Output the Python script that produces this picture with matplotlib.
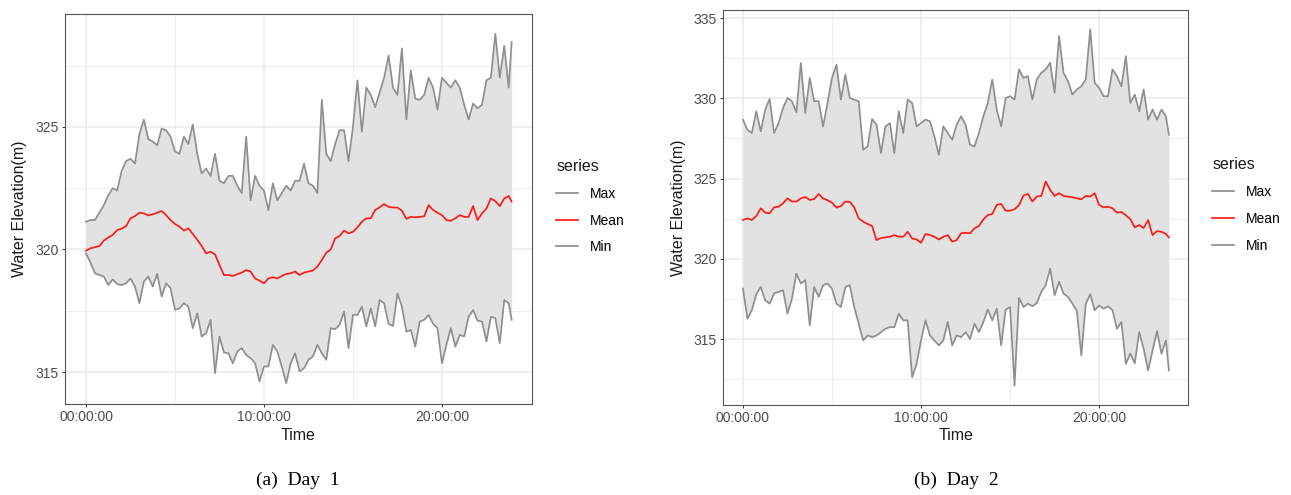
import numpy as np
import matplotlib
matplotlib.use("Agg")
import matplotlib.pyplot as plt
from matplotlib.lines import Line2D

plt.rcParams['font.family'] = ['Liberation Sans', 'DejaVu Sans']

# time stamps (minutes after midnight), sampled every 15 min + last reading
minutes = list(range(0, 1440, 15)) + [1435]
hours = np.array(minutes) / 60.0

# ---- Day 1 ----
day1_max = [321.13, 321.2, 321.2, 321.5, 321.8, 322.2, 322.5, 322.4, 323.2, 323.6,
            323.7, 323.5, 324.7, 325.3, 324.5, 324.4, 324.25, 324.93, 324.86, 324.6,
            324.0, 323.9, 324.6, 324.3, 325.1, 323.9, 323.1, 323.3, 323.0, 323.9,
            322.8, 322.7, 323.0, 323.0, 322.6, 322.3, 324.6, 322.0, 323.0, 322.6,
            322.4, 321.6, 322.7, 322.0, 322.3, 322.6, 322.4, 322.8, 322.8, 323.5,
            322.7, 322.6, 322.3, 326.1, 323.9, 323.6, 324.3, 324.86, 324.86, 323.6,
            325.0, 326.9, 324.8, 326.6, 326.3, 325.8, 326.4, 327.0, 327.9, 326.6,
            326.3, 328.2, 325.3, 327.3, 326.15, 326.1, 326.3, 327.0, 326.6, 325.7,
            327.0, 326.8, 326.6, 326.9, 326.6, 325.9, 325.3, 325.95, 325.75, 325.9,
            326.9, 327.0, 328.8, 327.0, 328.3, 326.6, 328.46]
day1_mean = [319.95, 320.05, 320.09, 320.14, 320.36, 320.49, 320.59, 320.79, 320.85, 320.95,
             321.27, 321.36, 321.5, 321.47, 321.39, 321.43, 321.5, 321.57, 321.40, 321.2,
             321.04, 320.93, 320.77, 320.86, 320.63, 320.4, 320.14, 319.84, 319.91, 319.8,
             319.37, 318.96, 318.96, 318.92, 318.99, 319.06, 319.16, 319.1, 318.82, 318.73,
             318.62, 318.82, 318.87, 318.82, 318.92, 319.0, 319.03, 319.1, 318.96, 319.06,
             319.1, 319.14, 319.3, 319.57, 319.87, 320.0, 320.45, 320.55, 320.77, 320.66,
             320.72, 320.9, 321.13, 321.27, 321.27, 321.61, 321.72, 321.85, 321.74, 321.71,
             321.71, 321.58, 321.25, 321.33, 321.31, 321.33, 321.35, 321.81, 321.61, 321.5,
             321.4, 321.2, 321.17, 321.27, 321.4, 321.33, 321.33, 321.77, 321.2, 321.47,
             321.67, 322.08, 321.97, 321.77, 322.08, 322.18, 321.95]
day1_min = [319.84, 319.46, 319.03, 318.96, 318.9, 318.55, 318.78, 318.59, 318.55, 318.62,
            318.82, 318.49, 317.81, 318.69, 318.9, 318.49, 319.0, 318.08, 318.62, 318.42,
            317.54, 317.6, 317.81, 317.67, 316.79, 317.4, 316.45, 316.59, 317.13, 314.96,
            316.45, 315.8, 315.77, 315.36, 315.84, 315.98, 315.7, 315.57, 315.36, 314.62,
            315.23, 315.23, 316.11, 315.84, 315.23, 314.55, 315.36, 315.77, 315.03, 315.16,
            315.5, 315.64, 316.11, 315.77, 315.5, 316.79, 316.75, 316.93, 317.47, 315.98,
            317.33, 317.33, 317.67, 316.86, 317.6, 316.86, 317.94, 317.81, 316.97, 316.88,
            318.21, 317.67, 316.65, 316.72, 316.04, 317.06, 317.13, 317.33, 316.97, 316.79,
            315.36, 316.11, 316.79, 316.04, 316.52, 316.45, 317.26, 317.53, 317.1, 317.06,
            316.25, 317.26, 317.2, 316.18, 317.94, 317.81, 317.13]

# ---- Day 2 ----
day2_max = [328.67, 328.05, 327.84, 329.19, 327.94, 329.3, 329.96, 327.84, 328.46, 329.4,
            330.02, 329.82, 329.13, 332.2, 329.09, 331.27, 329.82, 329.82, 328.25, 329.71,
            331.27, 332.1, 329.92, 331.48, 330.02, 329.92, 329.82, 326.8, 327.0, 328.71,
            328.36, 326.59, 328.25, 328.46, 326.59, 329.19, 327.84, 329.92, 329.71, 328.25,
            328.46, 328.67, 328.57, 327.63, 326.48, 328.25, 327.84, 327.42, 328.36, 328.88,
            328.36, 327.11, 327.0, 327.84, 328.88, 329.71, 331.17, 329.3, 328.25, 330.02,
            330.13, 329.92, 331.8, 331.27, 331.38, 329.92, 331.17, 331.59, 331.8, 332.21,
            330.34, 333.88, 331.59, 331.07, 330.23, 330.55, 330.75, 331.17, 334.3, 330.96,
            330.65, 330.13, 330.13, 331.8, 331.38, 330.75, 332.63, 329.71, 330.23, 329.19,
            330.55, 328.67, 329.3, 328.67, 329.3, 328.88, 327.73]
day2_mean = [322.42, 322.52, 322.42, 322.67, 323.15, 322.88, 322.84, 323.21, 323.25, 323.46,
             323.77, 323.57, 323.57, 323.77, 323.86, 323.67, 323.73, 324.04, 323.77, 323.65,
             323.5, 323.19, 323.29, 323.57, 323.55, 323.21, 322.52, 322.32, 322.17, 322.05,
             321.17, 321.3, 321.34, 321.38, 321.48, 321.38, 321.38, 321.69, 321.27, 321.21,
             321.0, 321.55, 321.48, 321.38, 321.21, 321.38, 321.48, 321.07, 321.17, 321.59,
             321.63, 321.59, 321.9, 322.05, 322.46, 322.73, 322.8, 323.36, 323.42, 323.0,
             323.0, 323.09, 323.35, 323.94, 324.05, 323.57, 323.88, 323.92, 324.82, 324.3,
             323.92, 324.09, 323.92, 323.88, 323.84, 323.77, 323.71, 323.92, 323.88, 324.09,
             323.36, 323.21, 323.25, 323.15, 322.88, 322.92, 322.71, 322.48, 321.96, 322.11,
             321.92, 322.42, 321.48, 321.73, 321.69, 321.55, 321.34]
day2_min = [318.15, 316.27, 316.8, 317.8, 318.25, 317.42, 317.21, 317.84, 317.94, 318.05,
            316.59, 317.52, 319.09, 318.46, 318.67, 315.86, 318.25, 317.63, 318.36, 318.46,
            318.15, 317.21, 317.0, 318.25, 318.36, 317.0, 315.96, 314.92, 315.23, 315.13,
            315.23, 315.44, 315.65, 315.75, 315.75, 316.59, 316.17, 316.17, 312.63, 313.46,
            314.92, 316.17, 315.23, 314.92, 314.61, 314.92, 316.07, 314.61, 315.23, 315.13,
            315.44, 315.02, 315.96, 315.44, 316.07, 316.84, 316.17, 316.9, 314.61, 316.84,
            317.0, 312.11, 317.57, 317.0, 317.21, 317.05, 317.25, 317.94, 318.36, 319.4,
            317.73, 318.57, 317.84, 317.63, 317.21, 316.75, 313.98, 317.21, 317.8, 316.8,
            317.1, 316.9, 317.05, 316.8, 315.65, 316.07, 313.46, 314.1, 313.5, 315.44,
            314.4, 313.05, 314.3, 315.5, 314.09, 314.92, 313.05]

xticks = [0, 10, 20]
xtick_labels = ["00:00:00", "10:00:00", "20:00:00"]

GREY_LINE = "#8f8f8f"
RIBBON = "#e2e2e2"
GRID = "#ebebeb"

fig = plt.figure(figsize=(12.91, 4.95), dpi=100)


def draw_panel(rect, vmax, vmean, vmin, xlim, ylim, yticks, yminor, caption, ylab_x, time_x):
    ax = fig.add_axes(rect)
    ax.fill_between(hours, vmin, vmax, color=RIBBON, lw=0, zorder=1)
    ax.plot(hours, vmax, color=GREY_LINE, lw=1.25, zorder=3)
    ax.plot(hours, vmin, color=GREY_LINE, lw=1.25, zorder=3)
    ax.plot(hours, vmean, color="#ff1a1a", lw=1.25, zorder=4)

    ax.set_xlim(*xlim)
    ax.set_ylim(*ylim)
    ax.set_xticks(xticks)
    ax.set_xticklabels(xtick_labels)
    ax.set_xticks([5, 15], minor=True)
    ax.set_yticks(yticks)
    ax.set_yticks(yminor, minor=True)
    ax.grid(which="major", color=GRID, lw=1.1, zorder=0)
    ax.grid(which="minor", color=GRID, lw=0.6, zorder=0)
    ax.set_axisbelow(True)
    ax.tick_params(which="major", direction="out", length=2.5, width=0.7,
                   color="#333333", labelsize=10, labelcolor="#4d4d4d", pad=2)
    ax.tick_params(which="minor", length=0)
    for sp in ax.spines.values():
        sp.set_color("#555555")
        sp.set_linewidth(0.8)

    handles = [Line2D([], [], color=GREY_LINE, lw=1.25),
               Line2D([], [], color="#ff1a1a", lw=1.25),
               Line2D([], [], color=GREY_LINE, lw=1.25)]
    leg = ax.legend(handles, ["Max", "Mean", "Min"], title="series",
                    loc="center left", bbox_to_anchor=(1.025, 0.506), frameon=False,
                    fontsize=10, title_fontsize=11.5, handlelength=1.6,
                    handletextpad=0.8, labelspacing=0.92, alignment="left")
    leg.get_title().set_color("#1a1a1a")

    fig.text(ylab_x, rect[1] + rect[3] / 2, "Water Elevation(m)", rotation=90,
             ha="center", va="center", fontsize=11.5, color="#1a1a1a")
    fig.text(time_x, 1 - 435 / 495, "Time", ha="center", va="center",
             fontsize=11.5, color="#1a1a1a")
    fig.text(time_x, 1 - 480 / 495, caption, ha="center", va="center",
             fontsize=14, family="Liberation Serif", color="black")
    return ax


draw_panel([65 / 1291, 1 - 404 / 495, 467 / 1291, 390 / 495],
           day1_max, day1_mean, day1_min, (-1.18, 25.06), (313.7, 329.6),
           [315, 320, 325], [317.5, 322.5, 327.5], "(a)  Day  1",
           20 / 1291, 298 / 1291)
draw_panel([723 / 1291, 1 - 405 / 495, 465 / 1291, 395 / 495],
           day2_max, day2_mean, day2_min, (-1.12, 24.99), (310.9, 335.5),
           [315, 320, 325, 330, 335], [312.5, 317.5, 322.5, 327.5, 332.5], "(b)  Day  2",
           678 / 1291, 956 / 1291)

fig.savefig("out.png", dpi=100)
